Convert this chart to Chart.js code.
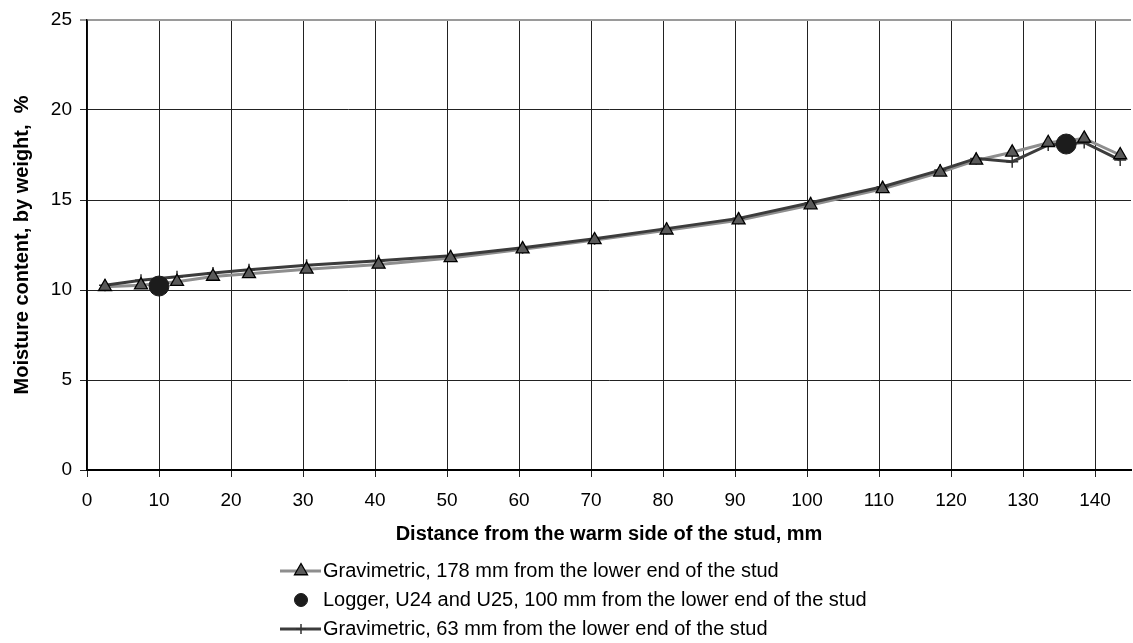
<!DOCTYPE html>
<html>
<head>
<meta charset="utf-8">
<title>Moisture content across the stud</title>
<script src="https://cdn.jsdelivr.net/npm/chart.js@4.4.0/dist/chart.umd.min.js"></script>
<style>
  html, body { margin: 0; padding: 0; background: #fff; overflow: hidden; }
  #wrap { width: 1133px; height: 643px; position: relative; }
</style>
</head>
<body>
<div id="wrap"><canvas id="chart"></canvas></div>
<script>
// ===== DATA =====
const xGrav = [2.5, 7.5, 12.5, 17.5, 22.5, 30.5, 40.5, 50.5, 60.5, 70.5, 80.5, 90.5, 100.5, 110.5, 118.5, 123.5, 128.5, 133.5, 138.5, 143.5];
const grav178 = [10.18, 10.27, 10.46, 10.75, 10.9, 11.15, 11.42, 11.78, 12.27, 12.78, 13.32, 13.88, 14.72, 15.62, 16.54, 17.2, 17.65, 18.18, 18.42, 17.5];
const grav63 = [10.26, 10.54, 10.74, 10.95, 11.12, 11.38, 11.62, 11.9, 12.35, 12.85, 13.41, 13.98, 14.85, 15.74, 16.66, 17.31, 17.13, 18.06, 18.2, 17.22];
const xLogger = [10, 136];
const logger = [10.22, 18.11];

const xTicks = [0, 10, 20, 30, 40, 50, 60, 70, 80, 90, 100, 110, 120, 130, 140];
const yTicks = [0, 5, 10, 15, 20, 25];

const legendLabels = [
  'Gravimetric, 178 mm from the lower end of the stud',
  'Logger, U24 and U25, 100 mm from the lower end of the stud',
  'Gravimetric, 63 mm from the lower end of the stud',
];

const FONT = '"Liberation Sans", Arial, sans-serif';
const pts = (xs, ys) => xs.map((x, i) => ({ x, y: ys[i] }));

// ===== DATASETS =====
// drawn from highest order (bottom) to lowest (top)
const datasets = [
  { // 0 logger
    data: pts(xLogger, logger), showLine: false, order: 1,
    pointStyle: 'circle', pointRadius: 10,
    pointBackgroundColor: '#1c1c1c', pointBorderColor: '#1c1c1c', pointBorderWidth: 1,
  },
  { // 1 triangles, 178 mm
    data: pts(xGrav, grav178), showLine: false, order: 2,
    pointStyle: 'triangle', pointRadius: 7.5,
    pointBackgroundColor: '#5a5a5a', pointBorderColor: '#000', pointBorderWidth: 1.3,
  },
  { // 2 crosses, 63 mm
    data: pts(xGrav, grav63), showLine: false, order: 3,
    pointStyle: 'cross', pointRadius: 6,
    pointBackgroundColor: '#333', pointBorderColor: '#333', pointBorderWidth: 1.5,
  },
  { // 3 line, 63 mm
    data: pts(xGrav, grav63), showLine: true, order: 4, borderColor: '#3c3c3c', borderWidth: 3,
    pointRadius: 0, tension: 0,
  },
  { // 4 line, 178 mm
    data: pts(xGrav, grav178), showLine: true, order: 5, borderColor: '#8e8e8e', borderWidth: 3,
    pointRadius: 0, tension: 0,
  },
];

// ===== LEGEND (one entry per row, line sample + marker) =====
const keyRows = [
  { text: legendLabels[0], line: 4, marker: 1, r: 7.5 },
  { text: legendLabels[1], line: null, marker: 0, r: 6.5 },
  { text: legendLabels[2], line: 3, marker: 2, r: 5 },
];

function drawMarker(ctx, d, x, y, r) {
  ctx.beginPath();
  ctx.lineWidth = d.pointBorderWidth;
  ctx.strokeStyle = d.pointBorderColor;
  ctx.fillStyle = d.pointBackgroundColor;
  if (d.pointStyle === 'triangle') {
    ctx.moveTo(x, y - r);
    ctx.lineTo(x + r * 0.866, y + r / 2);
    ctx.lineTo(x - r * 0.866, y + r / 2);
    ctx.closePath();
    ctx.fill(); ctx.stroke();
  } else if (d.pointStyle === 'circle') {
    ctx.arc(x, y, r, 0, Math.PI * 2);
    ctx.fill(); ctx.stroke();
  } else {
    ctx.moveTo(x, y - r); ctx.lineTo(x, y + r);
    ctx.moveTo(x - r, y); ctx.lineTo(x + r, y);
    ctx.stroke();
  }
}

const seriesKey = {
  id: 'seriesKey',
  afterDraw(chart) {
    const ctx = chart.ctx;
    const ds = chart.data.datasets;
    const x0 = 280, top = 571, step = 29;
    keyRows.forEach((row, i) => {
      const y = top + i * step;
      ctx.save();
      if (row.line !== null) {
        const d = ds[row.line];
        ctx.strokeStyle = d.borderColor;
        ctx.lineWidth = d.borderWidth;
        ctx.beginPath();
        ctx.moveTo(x0, y); ctx.lineTo(x0 + 41, y);
        ctx.stroke();
      }
      drawMarker(ctx, ds[row.marker], x0 + 21, y, row.r);
      ctx.fillStyle = '#000';
      ctx.font = '20px ' + FONT;
      ctx.textBaseline = 'middle';
      ctx.textAlign = 'left';
      ctx.fillText(row.text, x0 + 43, y);
      ctx.restore();
    });
  }
};

// ===== CHART =====
new Chart(document.getElementById('chart'), {
  type: 'scatter',
  data: { datasets },
  plugins: [seriesKey],
  options: {
    responsive: true,
    maintainAspectRatio: false,
    animation: false,
    events: [],
    layout: { autoPadding: false, padding: { top: 20, right: 2, left: 0, bottom: 0 } },
    plugins: { legend: { display: false }, tooltip: { enabled: false } },
    scales: {
      x: {
        type: 'linear', min: 0, max: 145,
        afterBuildTicks: s => { s.ticks = xTicks.map(v => ({ value: v })); },
        afterFit: s => { s.height = 173; s.paddingLeft = 0; s.paddingRight = 0; },
        ticks: { color: '#000', font: { family: FONT, size: 19 }, padding: 12, maxRotation: 0 },
        grid: { color: '#222', lineWidth: 1, tickLength: 7 },
        border: { color: '#000', width: 2 },
        title: {
          display: true, text: 'Distance from the warm side of the stud, mm',
          color: '#000', font: { family: FONT, size: 20, weight: 'bold' },
          padding: { top: 0, bottom: 97 },
        },
      },
      y: {
        type: 'linear', min: 0, max: 25,
        afterBuildTicks: s => { s.ticks = yTicks.map(v => ({ value: v })); },
        afterFit: s => { s.width = 87; s.paddingTop = 0; s.paddingBottom = 0; },
        ticks: { color: '#000', font: { family: FONT, size: 19 }, padding: 8 },
        grid: {
          color: c => (c.tick && c.tick.value === 25 ? '#9a9a9a' : '#222'),
          lineWidth: c => (c.tick && c.tick.value === 25 ? 2 : 1),
          tickLength: 7,
        },
        border: { color: '#000', width: 1.5 },
        title: {
          display: true, text: 'Moisture content, by weight,  %',
          color: '#000', font: { family: FONT, size: 20, weight: 'bold' },
          padding: { top: 10, bottom: 0 },
        },
      },
    },
  },
});
</script>
</body>
</html>
